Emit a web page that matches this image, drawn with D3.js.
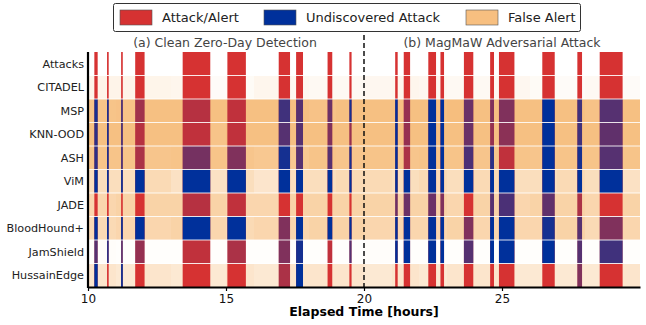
<!DOCTYPE html>
<html>
<head>
<meta charset="utf-8">
<script src="https://cdn.jsdelivr.net/npm/d3@7"></script>
<style>
  body { margin: 0; background: #fff; }
  svg { font-family: "DejaVu Sans", sans-serif; }
</style>
</head>
<body>
<script>
// detectors, top to bottom
var rows = ["Attacks", "CITADEL", "MSP", "KNN-OOD", "ASH", "ViM", "JADE", "BloodHound+", "JamShield", "HussainEdge"];

// attack windows [hours]
var attackStart = [10.23, 10.69, 11.20, 11.71, 13.43, 15.05, 16.91, 17.54, 18.68, 19.47,
                   21.13, 21.44, 22.33, 22.77, 23.62, 24.57, 24.89, 26.46, 27.73, 28.54];
var attackEnd   = [10.35, 10.75, 11.26, 12.05, 14.43, 15.72, 17.32, 17.79, 18.85, 19.55,
                   21.22, 21.67, 22.61, 22.90, 23.96, 24.71, 25.45, 26.91, 27.90, 29.37];

// share of each attack window that was detected (1 = alert, 0 = undiscovered)
var detAttacks  = [1,1,1,1,1,1,1,1,1,1, 1,1,1,1,1,1,1,1,1,1];
var detCitadel  = [1,1,1,1,1,1,1,1,1,1, 1,1,1,1,1,1,1,1,1,1];
var detMsp      = [0.1,0.1,0.3,0.75,0.85,0.9,0.3,0.4,0.5,0.1, 0,0.7,0,0,0.5,0.6,0.6,0,0.3,0.4];
var detKnn      = [0.2,0.1,0.3,0.85,0.9,0.9,0.4,0.4,0.6,0.7, 0,0.7,0,0,0.5,0.7,0.65,0,0.3,0.45];
var detAsh      = [0.2,0.1,0.3,0.8,0.55,0.6,0.1,0.4,0.4,0.1, 0,0.8,0,0,0.35,0.2,0.9,0,0.1,0.4];
var detVim      = [0,0,0,0,0,0,0,0,0,0, 0,0,0,0,0,0,0,0,0,0];
var detJade     = [1,1,1,1,0.85,0.9,1,1,1,1, 0.5,0.5,0.5,0.6,1,0.4,0.35,0.45,0.8,1];
var detBlood    = [0,0,0,0,0,0,0.6,0,0,0, 0,0,0,0,0.6,0,0,0.1,0.4,0.6];
var detJam      = [0.4,0.2,0.4,0.7,0.9,0.8,0.6,0.1,0.9,0.4, 0,0,0,0,0.4,0,0,0,0.4,0.3];
var detHussain  = [0,1,0,1,1,1,0.8,0,1,1, 1,1,1,1,1,1,1,1,0.6,1];

// false alert density per hour, 10h .. 30h
var faAttacks  = [0,0,0,0,0,0,0,0,0,0, 0,0,0,0,0,0,0,0,0,0];
var faCitadel  = [0.15,0.15,0.14,0.12,0.05,0.06,0.12,0.1,0.08,0.08, 0.1,0.12,0.1,0.08,0.08,0.1,0.06,0.05,0.08,0.05];
var faMsp      = [0.8,0.82,0.85,0.85,0.85,0.85,0.85,0.85,0.82,0.85, 0.85,0.85,0.85,0.88,0.85,0.85,0.85,0.85,0.82,0.85];
var faKnn      = [0.85,0.85,0.85,0.85,0.8,0.85,0.85,0.85,0.85,0.85, 0.85,0.85,0.85,0.85,0.85,0.85,0.85,0.85,0.85,0.85];
var faAsh      = [0.8,0.8,0.78,0.8,0.8,0.78,0.75,0.75,0.8,0.78, 0.8,0.78,0.8,0.8,0.78,0.8,0.78,0.8,0.8,0.8];
var faVim      = [0.45,0.45,0.5,0.4,0.4,0.45,0.35,0.45,0.45,0.5, 0.5,0.45,0.5,0.45,0.5,0.45,0.45,0.5,0.45,0.4];
var faJade     = [0.55,0.6,0.6,0.6,0.6,0.55,0.55,0.6,0.6,0.6, 0.6,0.6,0.6,0.55,0.6,0.55,0.6,0.6,0.55,0.6];
var faBlood    = [0.5,0.55,0.55,0.6,0.55,0.5,0.55,0.55,0.6,0.6, 0.55,0.55,0.55,0.6,0.55,0.55,0.55,0.6,0.5,0.55];
var faJam      = [0.03,0.02,0.02,0.02,0.02,0.02,0.02,0.02,0.02,0.02, 0.03,0.02,0.02,0.02,0.02,0.02,0.02,0.02,0.02,0.02];
var faHussain  = [0.35,0.3,0.35,0.3,0.3,0.35,0.3,0.35,0.35,0.35, 0.3,0.35,0.3,0.35,0.35,0.3,0.3,0.3,0.3,0.35];

var xTicks = [10, 15, 20, 25];
var legendLabels = ["Attack/Alert", "Undiscovered Attack", "False Alert"];

var RED = "#d63232", BLUE = "#00309b", ORANGE = "#f5b56c";

var detByRow = [detAttacks, detCitadel, detMsp, detKnn, detAsh, detVim, detJade, detBlood, detJam, detHussain];
var faByRow  = [faAttacks, faCitadel, faMsp, faKnn, faAsh, faVim, faJade, faBlood, faJam, faHussain];

var width = 646, height = 325;

var svg = d3.select("body").append("svg")
    .attr("width", width)
    .attr("height", height);

var x = d3.scaleLinear().domain([10, 30]).range([88, 640]);
var y = d3.scaleBand().domain(rows).range([52, 287]);

// false alert background
var faCells = [];
rows.forEach(function(r, i) {
  faByRow[i].forEach(function(v, j) {
    if (v > 0) faCells.push({row: r, t0: 10 + j, t1: 11 + j, v: v});
  });
});
svg.append("g").selectAll("rect")
  .data(faCells)
  .enter().append("rect")
    .attr("x", function(d) { return x(d.t0); })
    .attr("width", function(d) { return x(d.t1) - x(d.t0); })
    .attr("y", function(d) { return y(d.row); })
    .attr("height", y.bandwidth())
    .attr("fill", ORANGE)
    .attr("fill-opacity", function(d) { return d.v; })
    .attr("shape-rendering", "crispEdges");

// attack windows, red for detected share, blue on top for the missed share
var atk = [];
rows.forEach(function(r, i) {
  attackStart.forEach(function(s, k) {
    atk.push({row: r, t0: s, t1: attackEnd[k], d: detByRow[i][k]});
  });
});
var ag = svg.append("g");
ag.selectAll("rect.alert")
  .data(atk)
  .enter().append("rect")
    .attr("class", "alert")
    .attr("x", function(d) { return x(d.t0); })
    .attr("width", function(d) { return x(d.t1) - x(d.t0); })
    .attr("y", function(d) { return y(d.row); })
    .attr("height", y.bandwidth())
    .attr("fill", RED);
ag.selectAll("rect.miss")
  .data(atk.filter(function(d) { return d.d < 1; }))
  .enter().append("rect")
    .attr("class", "miss")
    .attr("x", function(d) { return x(d.t0); })
    .attr("width", function(d) { return x(d.t1) - x(d.t0); })
    .attr("y", function(d) { return y(d.row); })
    .attr("height", y.bandwidth())
    .attr("fill", BLUE)
    .attr("fill-opacity", function(d) { return 1 - d.d; });

// white separators between rows
svg.append("g").selectAll("line")
  .data(rows.slice(1))
  .enter().append("line")
    .attr("x1", x(10)).attr("x2", x(30))
    .attr("y1", function(d) { return y(d); })
    .attr("y2", function(d) { return y(d); })
    .attr("stroke", "#fff")
    .attr("stroke-opacity", 0.85)
    .attr("stroke-width", 1.2);

// dashed split between the two scenarios
svg.append("line")
  .attr("x1", x(20)).attr("x2", x(20))
  .attr("y1", 35).attr("y2", 287)
  .attr("stroke", "#111")
  .attr("stroke-width", 1.5)
  .attr("stroke-dasharray", "5,3");

// x axis
var xAxis = svg.append("g")
  .attr("transform", "translate(0,287)")
  .call(d3.axisBottom(x).tickValues(xTicks).tickSize(4).tickSizeOuter(0).tickPadding(3));
xAxis.select(".domain").attr("stroke", "#000").attr("stroke-width", 2.2);
xAxis.selectAll(".tick line").attr("stroke-width", 1.2);
xAxis.selectAll("text").attr("font-size", 12).attr("fill", "#111")
  .attr("font-family", "DejaVu Sans");

svg.append("text")
  .attr("x", 364).attr("y", 316)
  .attr("text-anchor", "middle")
  .attr("font-size", 12.5).attr("font-weight", "bold")
  .text("Elapsed Time [hours]");

// y axis line and labels
svg.append("line")
  .attr("x1", 88).attr("x2", 88)
  .attr("y1", 52).attr("y2", 288)
  .attr("stroke", "#000").attr("stroke-width", 2.2);
svg.append("g").selectAll("text")
  .data(rows)
  .enter().append("text")
    .attr("x", 84)
    .attr("y", function(d) { return y(d) + y.bandwidth() / 2; })
    .attr("dy", "0.35em")
    .attr("text-anchor", "end")
    .attr("font-size", 11.2)
    .attr("fill", "#222")
    .text(function(d) { return d; });

// panel titles
svg.append("text")
  .attr("x", 225).attr("y", 47)
  .attr("text-anchor", "middle")
  .attr("font-size", 12.5).attr("fill", "#444")
  .text("(a) Clean Zero-Day Detection");
svg.append("text")
  .attr("x", 502).attr("y", 47)
  .attr("text-anchor", "middle")
  .attr("font-size", 12.5).attr("fill", "#444")
  .text("(b) MagMaW Adversarial Attack");

// legend
var lg = svg.append("g");
lg.append("rect")
  .attr("x", 113.5).attr("y", 3.5)
  .attr("width", 467).attr("height", 28)
  .attr("rx", 2)
  .attr("fill", "#fff").attr("stroke", "#333").attr("stroke-width", 1);
var legX = [120, 264, 466];
var legC = [RED, BLUE, "#f7bf80"];
legendLabels.forEach(function(l, i) {
  lg.append("rect")
    .attr("x", legX[i]).attr("y", 10)
    .attr("width", 32).attr("height", 15)
    .attr("fill", legC[i]).attr("stroke", "#555").attr("stroke-width", 0.6);
  lg.append("text")
    .attr("x", legX[i] + 42).attr("y", 17.5)
    .attr("dy", "0.35em")
    .attr("font-size", 13).attr("fill", "#222")
    .text(l);
});
</script>
</body>
</html>
